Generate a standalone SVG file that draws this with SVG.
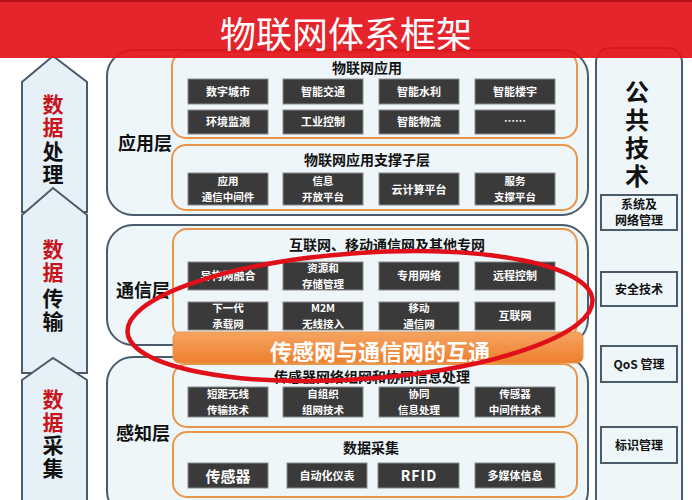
<svg xmlns="http://www.w3.org/2000/svg" width="692" height="500" viewBox="0 0 692 500">
<defs>
<style>
text{font-family:"Noto Sans CJK SC","Noto Sans",sans-serif;}
.layer{fill:#eef6fa;stroke:#4a5b6c;stroke-width:2;}
.sub{fill:#eef6fa;stroke:#e8964a;stroke-width:2;}
.dk{fill:#3a3a3a;stroke:#8a8a8a;stroke-width:1;}
.dt{fill:#ffffff;font-size:11px;font-weight:bold;text-anchor:middle;}
.d2{fill:#ffffff;font-size:10.5px;font-weight:bold;text-anchor:middle;}
.st{fill:#111;font-size:14px;font-weight:bold;text-anchor:middle;}
.ll{fill:#111;font-size:18px;font-weight:bold;text-anchor:middle;}
.arr{fill:#e6f1f7;stroke:#4a5b6c;stroke-width:2;}
.vc{font-size:21px;font-weight:bold;writing-mode:vertical-rl;letter-spacing:2px;}
.red{fill:#c8141c;}
.blk{fill:#111;}
.rb{fill:#eef6fa;stroke:#4a5b6c;stroke-width:2;}
.rt{fill:#111;font-size:12px;font-weight:bold;text-anchor:middle;}
.pc{fill:#111;font-size:24px;font-weight:bold;writing-mode:vertical-rl;letter-spacing:4px;}
</style>
<linearGradient id="og" x1="0" y1="0" x2="0" y2="1">
<stop offset="0" stop-color="#f5a462"/>
<stop offset="1" stop-color="#ee7f2c"/>
</linearGradient>
</defs>
<rect x="0" y="0" width="692" height="500" fill="#ffffff"/>

<!-- left column -->
<g id="data-processing">
<path class="arr" d="M22 82 L53 56 L87 82 L87 212 L22 212 Z"/>
<text class="vc red" x="53" y="94">数据</text>
<text class="vc blk" x="53" y="141">处理</text>
</g>
<g id="data-transmission">
<path class="arr" d="M22 215 L53 188 L87 215 L87 373 L22 373 Z"/>
<text class="vc red" x="53" y="239">数据</text>
<text class="vc blk" x="53" y="288">传输</text>
</g>
<g id="data-collection">
<path class="arr" d="M22 380 L53 358 L87 380 L87 510 L22 510 Z"/>
<text class="vc red" x="53" y="389">数据</text>
<text class="vc blk" x="53" y="435">采集</text>
</g>

<!-- application layer -->
<g id="app-layer">
<rect class="layer" x="107" y="50" width="481" height="165" rx="26"/>
<text class="ll" x="145" y="150">应用层</text>
</g>
<g id="iot-app">
<rect class="sub" x="172" y="52" width="405" height="86" rx="14"/>
<text class="st" x="367" y="73">物联网应用</text>
<rect class="dk" x="188" y="79" width="80" height="25"/><text class="dt" x="228" y="96">数字城市</text>
<rect class="dk" x="283" y="79" width="80" height="25"/><text class="dt" x="323" y="96">智能交通</text>
<rect class="dk" x="379" y="79" width="80" height="25"/><text class="dt" x="419" y="96">智能水利</text>
<rect class="dk" x="475" y="79" width="80" height="25"/><text class="dt" x="515" y="96">智能楼宇</text>
<rect class="dk" x="188" y="110" width="80" height="24"/><text class="dt" x="228" y="126">环境监测</text>
<rect class="dk" x="283" y="110" width="80" height="24"/><text class="dt" x="323" y="126">工业控制</text>
<rect class="dk" x="379" y="110" width="80" height="24"/><text class="dt" x="419" y="126">智能物流</text>
<rect class="dk" x="475" y="110" width="80" height="24"/><text class="dt" x="515" y="125">……</text>
</g>
<g id="app-support">
<rect class="sub" x="172" y="145" width="405" height="65" rx="14"/>
<text class="st" x="367" y="165">物联网应用支撑子层</text>
<rect class="dk" x="188" y="173" width="80" height="32"/><text class="d2" x="228" y="185.3">应用</text><text class="d2" x="228" y="200.8">通信中间件</text>
<rect class="dk" x="283" y="173" width="80" height="32"/><text class="d2" x="323" y="185.3">信息</text><text class="d2" x="323" y="200.8">开放平台</text>
<rect class="dk" x="379" y="173" width="80" height="32"/><text class="dt" x="419" y="194">云计算平台</text>
<rect class="dk" x="475" y="173" width="80" height="32"/><text class="d2" x="515" y="185.3">服务</text><text class="d2" x="515" y="200.8">支撑平台</text>
</g>

<!-- communication layer -->
<g id="comm-layer">
<rect class="layer" x="107" y="225" width="481" height="120" rx="26"/>
<text class="ll" x="143" y="297">通信层</text>
</g>
<g id="networks">
<rect class="sub" x="173" y="229" width="404" height="109" rx="14"/>
<text class="st" x="387" y="250">互联网、移动通信网及其他专网</text>
<rect class="dk" x="188" y="262" width="80" height="28"/><text class="dt" x="228" y="280">异构网融合</text>
<rect class="dk" x="283" y="262" width="80" height="28"/><text class="d2" x="323" y="272.3">资源和</text><text class="d2" x="323" y="287.8">存储管理</text>
<rect class="dk" x="379" y="262" width="80" height="28"/><text class="dt" x="419" y="280">专用网络</text>
<rect class="dk" x="475" y="262" width="80" height="28"/><text class="dt" x="515" y="280">远程控制</text>
<rect class="dk" x="188" y="302" width="80" height="28"/><text class="d2" x="228" y="312.3">下一代</text><text class="d2" x="228" y="327.8">承载网</text>
<rect class="dk" x="283" y="302" width="80" height="28"/><text class="d2" x="323" y="312.3">M2M</text><text class="d2" x="323" y="327.8">无线接入</text>
<rect class="dk" x="379" y="302" width="80" height="28"/><text class="d2" x="419" y="312.3">移动</text><text class="d2" x="419" y="327.8">通信网</text>
<rect class="dk" x="475" y="302" width="80" height="28"/><text class="dt" x="515" y="320">互联网</text>
</g>

<!-- sensing layer -->
<g id="sense-layer">
<rect class="layer" x="107" y="357" width="481" height="160" rx="26"/>
<text class="ll" x="143" y="440">感知层</text>
</g>
<g id="interconnect">
<rect x="173" y="332" width="410" height="31" rx="6" fill="url(#og)" stroke="#e8964a" stroke-width="1"/>
<text x="380" y="360" fill="#ffffff" font-size="22" font-weight="bold" text-anchor="middle">传感网与通信网的互通</text>
</g>
<g id="sensor-net">
<rect class="sub" x="173" y="364" width="404" height="63" rx="14"/>
<text class="st" x="372" y="382">传感器网络组网和协同信息处理</text>
<rect class="dk" x="188" y="387" width="80" height="30"/><text class="d2" x="228" y="398.3">短距无线</text><text class="d2" x="228" y="413.8">传输技术</text>
<rect class="dk" x="283" y="387" width="80" height="30"/><text class="d2" x="323" y="398.3">自组织</text><text class="d2" x="323" y="413.8">组网技术</text>
<rect class="dk" x="379" y="387" width="80" height="30"/><text class="d2" x="419" y="398.3">协同</text><text class="d2" x="419" y="413.8">信息处理</text>
<rect class="dk" x="475" y="387" width="80" height="30"/><text class="d2" x="515" y="398.3">传感器</text><text class="d2" x="515" y="413.8">中间件技术</text>
</g>
<g id="data-acq">
<rect class="sub" x="173" y="432" width="404" height="65" rx="14"/>
<text class="st" x="371" y="453">数据采集</text>
<rect class="dk" x="188" y="463" width="80" height="25"/><text x="228" y="482" fill="#fff" font-size="15" font-weight="bold" text-anchor="middle">传感器</text>
<rect class="dk" x="287" y="463" width="80" height="25"/><text class="dt" x="327" y="480">自动化仪表</text>
<rect class="dk" x="378" y="463" width="81" height="25"/><text x="419" y="481" fill="#fff" font-size="14" font-weight="bold" text-anchor="middle" letter-spacing="1">RFID</text>
<rect class="dk" x="475" y="463" width="80" height="25"/><text class="dt" x="515" y="480">多媒体信息</text>
</g>

<!-- right column -->
<g id="public-tech">
<rect class="layer" x="596" y="48" width="86" height="470" rx="14"/>
<text class="pc" x="637" y="80">公共技术</text>
</g>
<g id="sys-mgmt"><rect class="rb" x="601" y="195" width="76" height="35"/><text class="rt" x="639" y="209">系统及</text><text class="rt" x="639" y="225">网络管理</text></g>
<g id="security"><rect class="rb" x="601" y="272" width="76" height="34"/><text class="rt" x="639" y="294" font-size="13">安全技术</text></g>
<g id="qos"><rect class="rb" x="601" y="346" width="76" height="36"/><text class="rt" x="639" y="369" font-size="13">QoS 管理</text></g>
<g id="ident"><rect class="rb" x="601" y="427" width="76" height="36"/><text class="rt" x="639" y="450" font-size="13">标识管理</text></g>

<!-- header -->
<rect x="0" y="0" width="692" height="58" fill="#e3131b" opacity="0.93"/>
<rect x="0" y="0" width="692" height="2" fill="#b01016"/>
<text x="346" y="48" fill="#ffffff" font-size="36" text-anchor="middle">物联网体系框架</text>

<!-- red ellipse highlight -->
<g id="connectors">
<ellipse cx="360" cy="316" rx="233" ry="63" transform="rotate(-4 360 316)" fill="none" stroke="#e0101a" stroke-width="4.5"/>
</g>
</svg>
